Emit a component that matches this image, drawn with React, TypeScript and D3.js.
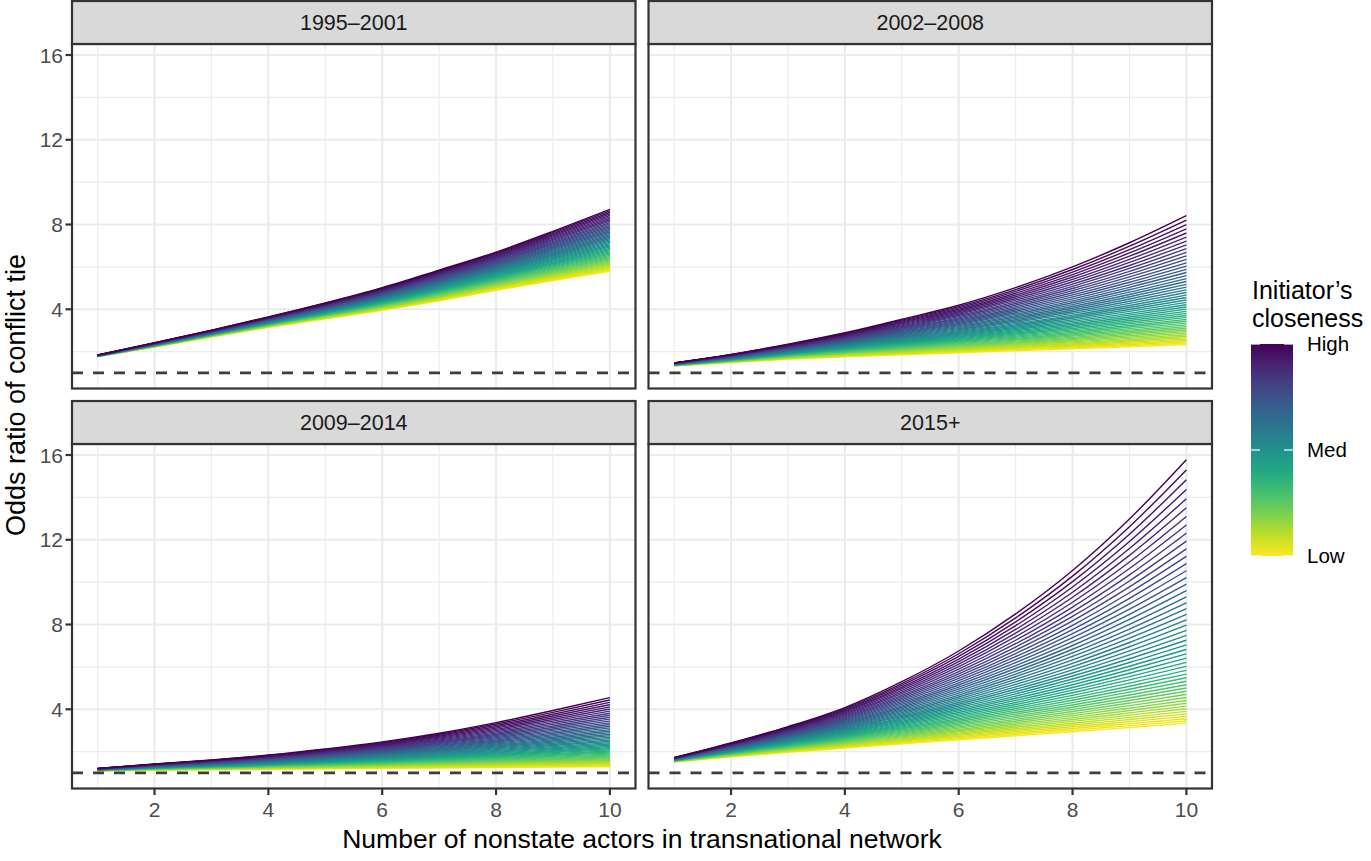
import React, { useEffect, useRef } from "react";
import * as d3 from "d3";

// number of nonstate actors in the network
const actors = [1, 2, 3, 4, 5, 6, 7, 8, 9, 10];

const periods = ["1995–2001", "2002–2008", "2009–2014", "2015+"];

// odds ratio at the lowest closeness, per period
const lowCloseness = [
	[1.77, 2.22, 2.7, 3.15, 3.55, 3.95, 4.4, 4.9, 5.35, 5.79],
	[1.33, 1.49, 1.65, 1.76, 1.85, 1.95, 2.05, 2.13, 2.23, 2.34],
	[1.1, 1.13, 1.15, 1.17, 1.19, 1.21, 1.23, 1.25, 1.27, 1.29],
	[1.52, 1.76, 1.97, 2.17, 2.37, 2.56, 2.75, 2.94, 3.14, 3.34],
];

// odds ratio at the highest closeness, per period
const highCloseness = [
	[1.84, 2.42, 3.01, 3.64, 4.3, 5.02, 5.85, 6.7, 7.68, 8.71],
	[1.47, 1.87, 2.35, 2.89, 3.53, 4.19, 5.02, 6.0, 7.14, 8.42],
	[1.21, 1.42, 1.61, 1.84, 2.13, 2.46, 2.87, 3.37, 3.94, 4.55],
	[1.72, 2.41, 3.18, 4.08, 5.3, 6.75, 8.5, 10.55, 12.98, 15.78],
];

// closeness grid (0 = low, 1 = high)
const closeness = d3.range(0, 51).map((i) => i / 50);

const legendLabels = ["Low", "Med", "High"];
const xTicks = [2, 4, 6, 8, 10];
const yTicks = [4, 8, 12, 16];

const FONT = "'Liberation Sans', Arial, Helvetica, sans-serif";

const ConflictTiePlot: React.FC = () => {
	const chartRef = useRef<SVGSVGElement | null>(null);

	useEffect(() => {
		if (!chartRef.current) return;
		const svg = d3.select(chartRef.current);

		const panelLeft = [72, 648.5];
		const panelWidth = 563.5;
		const stripTop = [1, 401];
		const stripH = 43;
		const panelH = 344.5;

		// log-odds is linear in closeness, so each curve sits between the two ends
		const series = lowCloseness.map((low, p) =>
			closeness.map((c) => ({
				c,
				values: actors.map((x, i) => ({
					x,
					y: Math.exp(
						Math.log(low[i]) * (1 - c) +
							Math.log(highCloseness[p][i]) * c
					),
				})),
			}))
		);

		const allY = [1, ...lowCloseness.flat(), ...highCloseness.flat()];
		const yMin = d3.min(allY) as number;
		const yMax = d3.max(allY) as number;
		const yPad = (yMax - yMin) * 0.05;
		const xPad = (10 - 1) * 0.05;

		const color = (c: number) => d3.interpolateViridis(1 - c);

		periods.forEach((label, p) => {
			const col = p % 2;
			const row = Math.floor(p / 2);
			const left = panelLeft[col];
			const sTop = stripTop[row];
			const top = sTop + stripH;
			const bottom = top + panelH;

			const x = d3
				.scaleLinear()
				.domain([1 - xPad, 10 + xPad])
				.range([left, left + panelWidth]);
			const y = d3
				.scaleLinear()
				.domain([yMin - yPad, yMax + yPad])
				.range([bottom, top]);

			const g = svg.append("g");

			g.append("rect")
				.attr("x", left)
				.attr("y", top)
				.attr("width", panelWidth)
				.attr("height", panelH)
				.attr("fill", "#fff");

			// minor grid
			const yMinor = [2, 6, 10, 14];
			const xMinor = [1, 3, 5, 7, 9];
			g.selectAll(".ymin")
				.data(yMinor)
				.enter()
				.append("line")
				.attr("x1", left)
				.attr("x2", left + panelWidth)
				.attr("y1", (d) => y(d))
				.attr("y2", (d) => y(d))
				.attr("stroke", "#ebebeb")
				.attr("stroke-width", 1.1);
			g.selectAll(".xmin")
				.data(xMinor)
				.enter()
				.append("line")
				.attr("y1", top)
				.attr("y2", bottom)
				.attr("x1", (d) => x(d))
				.attr("x2", (d) => x(d))
				.attr("stroke", "#ebebeb")
				.attr("stroke-width", 1.1);

			// major grid
			g.selectAll(".ymaj")
				.data(yTicks)
				.enter()
				.append("line")
				.attr("x1", left)
				.attr("x2", left + panelWidth)
				.attr("y1", (d) => y(d))
				.attr("y2", (d) => y(d))
				.attr("stroke", "#ebebeb")
				.attr("stroke-width", 2.2);
			g.selectAll(".xmaj")
				.data(xTicks)
				.enter()
				.append("line")
				.attr("y1", top)
				.attr("y2", bottom)
				.attr("x1", (d) => x(d))
				.attr("x2", (d) => x(d))
				.attr("stroke", "#ebebeb")
				.attr("stroke-width", 2.2);

			const line = d3
				.line<{ x: number; y: number }>()
				.x((d) => x(d.x))
				.y((d) => y(d.y))
				.curve(d3.curveMonotoneX);

			g.selectAll(".curve")
				.data(series[p])
				.enter()
				.append("path")
				.attr("d", (d) => line(d.values))
				.attr("fill", "none")
				.attr("stroke", (d) => color(d.c))
				.attr("stroke-width", 1.4);

			// reference line at an odds ratio of 1
			g.append("line")
				.attr("x1", left)
				.attr("x2", left + panelWidth)
				.attr("y1", y(1))
				.attr("y2", y(1))
				.attr("stroke", "#3d3d3d")
				.attr("stroke-width", 2.8)
				.attr("stroke-dasharray", "11,10");

			g.append("rect")
				.attr("x", left)
				.attr("y", top)
				.attr("width", panelWidth)
				.attr("height", panelH)
				.attr("fill", "none")
				.attr("stroke", "#333")
				.attr("stroke-width", 2.2);

			// strip
			g.append("rect")
				.attr("x", left)
				.attr("y", sTop)
				.attr("width", panelWidth)
				.attr("height", stripH)
				.attr("fill", "#d9d9d9")
				.attr("stroke", "#333")
				.attr("stroke-width", 2.2);
			g.append("text")
				.attr("x", left + panelWidth / 2)
				.attr("y", sTop + stripH / 2)
				.attr("dy", "0.36em")
				.attr("text-anchor", "middle")
				.attr("font-family", FONT)
				.attr("font-size", 21.5)
				.attr("fill", "#1a1a1a")
				.text(label);

			// y axis on the left column only
			if (col === 0) {
				const yAxis = g.append("g");
				yAxis
					.selectAll("line")
					.data(yTicks)
					.enter()
					.append("line")
					.attr("x1", left - 6.5)
					.attr("x2", left)
					.attr("y1", (d) => y(d))
					.attr("y2", (d) => y(d))
					.attr("stroke", "#333")
					.attr("stroke-width", 2.2);
				yAxis
					.selectAll("text")
					.data(yTicks)
					.enter()
					.append("text")
					.attr("x", left - 9)
					.attr("y", (d) => y(d))
					.attr("dy", "0.36em")
					.attr("text-anchor", "end")
					.attr("font-family", FONT)
					.attr("font-size", 21)
					.attr("fill", "#4d4d4d")
					.text((d) => d);
			}

			// x axis on the bottom row only
			if (row === 1) {
				const xAxis = g.append("g");
				xAxis
					.selectAll("line")
					.data(xTicks)
					.enter()
					.append("line")
					.attr("x1", (d) => x(d))
					.attr("x2", (d) => x(d))
					.attr("y1", bottom)
					.attr("y2", bottom + 6.5)
					.attr("stroke", "#333")
					.attr("stroke-width", 2.2);
				xAxis
					.selectAll("text")
					.data(xTicks)
					.enter()
					.append("text")
					.attr("x", (d) => x(d))
					.attr("y", bottom + 28)
					.attr("text-anchor", "middle")
					.attr("font-family", FONT)
					.attr("font-size", 21)
					.attr("fill", "#4d4d4d")
					.text((d) => d);
			}
		});

		// axis titles
		svg.append("text")
			.attr("x", (72 + 1212) / 2)
			.attr("y", 848)
			.attr("text-anchor", "middle")
			.attr("font-family", FONT)
			.attr("font-size", 26.5)
			.attr("fill", "#000")
			.text("Number of nonstate actors in transnational network");

		svg.append("text")
			.attr("transform", "translate(24.5,395) rotate(-90)")
			.attr("text-anchor", "middle")
			.attr("font-family", FONT)
			.attr("font-size", 27)
			.attr("fill", "#000")
			.text("Odds ratio of conflict tie");

		// colour bar legend
		const legX = 1251;
		const barW = 42;
		const barTop = 344;
		const barBottom = 556;

		const defs = svg.append("defs");
		const grad = defs
			.append("linearGradient")
			.attr("id", "closeness-grad")
			.attr("x1", 0)
			.attr("x2", 0)
			.attr("y1", 1)
			.attr("y2", 0);
		d3.range(0, 11).forEach((i) => {
			grad.append("stop")
				.attr("offset", `${i * 10}%`)
				.attr("stop-color", color(i / 10));
		});

		svg.append("text")
			.attr("x", legX + 1)
			.attr("y", 299)
			.attr("font-family", FONT)
			.attr("font-size", 25)
			.attr("fill", "#000")
			.text("Initiator’s");
		svg.append("text")
			.attr("x", legX + 1)
			.attr("y", 327)
			.attr("font-family", FONT)
			.attr("font-size", 25)
			.attr("fill", "#000")
			.text("closeness");

		svg.append("rect")
			.attr("x", legX)
			.attr("y", barTop)
			.attr("width", barW)
			.attr("height", barBottom - barTop)
			.attr("fill", "url(#closeness-grad)");

		const legY = d3.scaleLinear().domain([0, 1]).range([barBottom, barTop]);
		const legTicks = [0, 0.5, 1];
		legTicks.forEach((t, i) => {
			const ty = legY(t);
			[
				[legX, legX + 9],
				[legX + barW - 9, legX + barW],
			].forEach(([a, b]) => {
				svg.append("line")
					.attr("x1", a)
					.attr("x2", b)
					.attr("y1", ty)
					.attr("y2", ty)
					.attr("stroke", "#fff")
					.attr("stroke-width", 1.2);
			});
			svg.append("text")
				.attr("x", 1307)
				.attr("y", ty)
				.attr("dy", "0.36em")
				.attr("font-family", FONT)
				.attr("font-size", 20.5)
				.attr("fill", "#000")
				.text(legendLabels[i]);
		});

		return () => {
			svg.selectAll("*").remove();
		};
	}, []);

	return (
		<svg
			ref={chartRef}
			width={1371}
			height={861}
			style={{ position: "absolute", left: 0, top: 0, background: "#fff" }}
		/>
	);
};

export default function App() {
	return <ConflictTiePlot />;
}
